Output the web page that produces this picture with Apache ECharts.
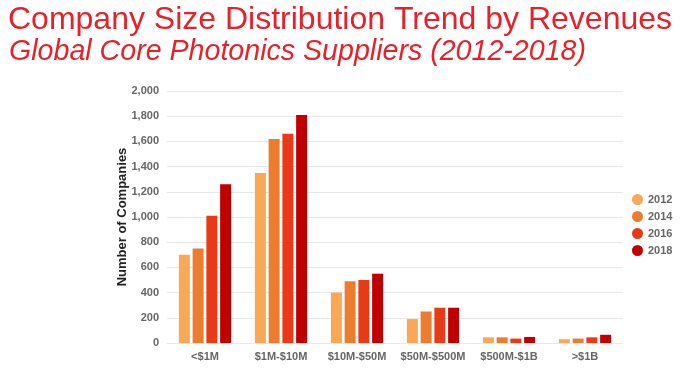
<!DOCTYPE html>
<html>
<head>
<meta charset="utf-8">
<script src="https://cdn.jsdelivr.net/npm/echarts@6/dist/echarts.min.js"></script>
<style>
  html, body { margin: 0; padding: 0; background: #fff; }
  #chart { width: 700px; height: 376px; }
</style>
</head>
<body>
<div id="chart"></div>
<script>
// revenue buckets
const categories = ['<$1M', '$1M-$10M', '$10M-$50M', '$50M-$500M', '$500M-$1B', '>$1B']
const years = ['2012', '2014', '2016', '2018']
// number of companies per bucket, one array per year
const y2012 = [700, 1350, 400, 190, 45, 30]
const y2014 = [750, 1620, 490, 250, 45, 35]
const y2016 = [1010, 1660, 500, 280, 35, 45]
const y2018 = [1260, 1810, 550, 280, 48, 65]
const yTicks = [0, 200, 400, 600, 800, 1000, 1200, 1400, 1600, 1800, 2000]

const colors = ['#F8A857', '#EC7D30', '#E93A17', '#C00000']
const seriesData = [y2012, y2014, y2016, y2018]

var myChart = echarts.init(document.getElementById('chart'))

var option = {
  animation: false,
  color: colors,
  title: [
    {
      text: 'Company Size Distribution Trend by Revenues',
      left: 3,
      top: -1,
      textStyle: {
        fontFamily: 'Liberation Sans',
        fontSize: 32,
        fontWeight: 'normal',
        color: '#E8202A'
      }
    },
    {
      text: 'Global Core Photonics Suppliers (2012-2018)',
      left: 4,
      top: 33,
      textStyle: {
        fontFamily: 'Liberation Sans',
        fontSize: 28.6,
        fontStyle: 'italic',
        fontWeight: 'normal',
        color: '#E8202A'
      }
    }
  ],
  legend: {
    data: years,
    orient: 'vertical',
    left: 627,
    top: 189,
    icon: 'circle',
    itemWidth: 11,
    itemHeight: 11,
    itemGap: 6,
    textStyle: {
      fontFamily: 'Liberation Sans',
      fontSize: 11,
      fontWeight: 'bold',
      color: '#666'
    }
  },
  grid: {
    left: 167,
    right: 77,
    top: 91,
    bottom: 33
  },
  xAxis: {
    type: 'category',
    data: categories,
    axisLine: { show: false },
    axisTick: { show: false },
    axisLabel: {
      interval: 0,
      margin: 8,
      fontFamily: 'Liberation Sans',
      fontSize: 11,
      fontWeight: 'bold',
      color: '#666'
    }
  },
  yAxis: {
    type: 'value',
    min: 0,
    max: 2000,
    interval: 200,
    name: 'Number of Companies',
    nameLocation: 'middle',
    nameGap: 38,
    nameMoveOverlap: false,
    nameTextStyle: {
      fontFamily: 'Liberation Sans',
      fontSize: 13,
      fontWeight: 'bold',
      color: '#222'
    },
    axisLabel: {
      margin: 8,
      fontFamily: 'Liberation Sans',
      fontSize: 11,
      fontWeight: 'bold',
      color: '#666',
      formatter: v => yTicks.includes(v) ? v.toLocaleString('en-US') : ''
    },
    splitLine: { lineStyle: { color: '#e8e8e8' } }
  },
  series: years.map((y, i) => ({
    name: y,
    type: 'bar',
    data: seriesData[i],
    barWidth: 11,
    barGap: '25%'
  }))
}

myChart.setOption(option)
</script>
</body>
</html>
